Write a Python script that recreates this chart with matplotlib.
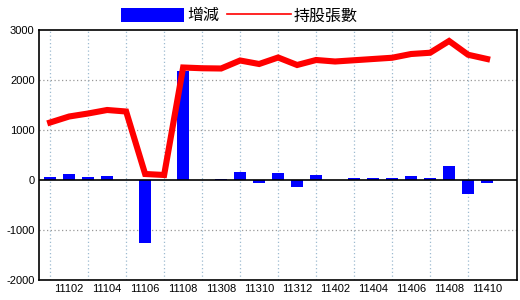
import matplotlib
matplotlib.use("Agg")
import matplotlib.pyplot as plt
from matplotlib.patches import Patch
from matplotlib.lines import Line2D

plt.rcParams['font.family'] = ['Noto Sans CJK TC', 'DejaVu Sans']

# months (roc year + month)
months = ['11101', '11102', '11103', '11104', '11105', '11106', '11107', '11108',
          '11307', '11308', '11309', '11310', '11311', '11312', '11401', '11402',
          '11403', '11404', '11405', '11406', '11407', '11408', '11409', '11410']
# change in shares held (bars)
change = [60, 120, 60, 80, 0, -1260, 0, 2180,
          0, 20, 160, -60, 140, -140, 100, 0,
          40, 40, 40, 80, 40, 280, -280, -60]
# total shares held (line)
holding = [1150, 1270, 1330, 1400, 1370, 120, 100, 2250,
           2235, 2230, 2390, 2320, 2450, 2300, 2400, 2370,
           2395, 2420, 2445, 2520, 2545, 2780, 2505, 2420]

x = list(range(len(months)))

fig = plt.figure(figsize=(5.2, 3.0), dpi=100)
ax = fig.add_axes([0.0745, 0.0667, 0.9192, 0.8333])

ax.bar(x, change, width=0.63, color='#0000ff', zorder=3)
ax.plot(x, holding, color='#ff0000', lw=4.4, zorder=4, solid_joinstyle='miter')
ax.axhline(0, color='black', lw=1.2, zorder=5)

ax.set_ylim(-2000, 3000)
ax.set_xlim(-0.6, 24.56)
ax.set_yticks([-2000, -1000, 0, 1000, 2000, 3000])
ax.set_yticklabels([str(v) for v in [-2000, -1000, 0, 1000, 2000, 3000]],
                   family='Liberation Sans', fontsize=8)

# vertical grid at even slots, labels at odd slots
for i in x[::2]:
    ax.axvline(i, color='#9dbbd0', lw=0.9, ls=(0, (1, 2)), zorder=1)
for v in [-1000, 1000, 2000]:
    ax.axhline(v, color='#999999', lw=0.9, ls=(0, (1, 2)), zorder=1)

ax.set_xticks(x[1::2])
ax.set_xticklabels(months[1::2], family='Liberation Sans', fontsize=8)
ax.tick_params(length=0, pad=3)
for s in ax.spines.values():
    s.set_linewidth(1.2)

handles = [Patch(facecolor='#0000ff', edgecolor='none'),
           Line2D([], [], color='#ff0000', lw=1.2)]
fig.legend(handles, ['增減', '持股張數'], loc='center', bbox_to_anchor=(0.46, 0.947),
           ncol=2, frameon=False, fontsize=11.5, handlelength=4, handleheight=1.0,
           handletextpad=0.2, columnspacing=0.45, borderpad=0, borderaxespad=0)

fig.savefig('out.png', dpi=100)
